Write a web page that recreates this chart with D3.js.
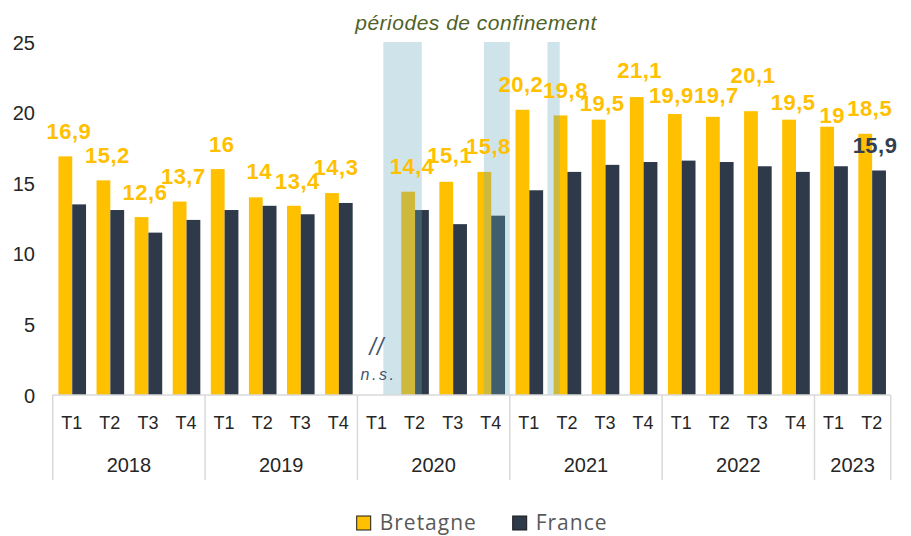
<!DOCTYPE html>
<html>
<head>
<meta charset="utf-8">
<script src="https://cdn.jsdelivr.net/npm/d3@7/dist/d3.min.js"></script>
<style>
  html, body { margin: 0; padding: 0; background: #fff; }
  svg { display: block; font-family: "Liberation Sans", Arial, sans-serif; }
</style>
</head>
<body>
<svg id="chart" width="911" height="536"></svg>
<script>
// ---------- data ----------
const years = ["2018", "2019", "2020", "2021", "2022", "2023"];
const quartersPerYear = [4, 4, 4, 4, 4, 2];
const quarterLabels = ["T1","T2","T3","T4","T1","T2","T3","T4","T1","T2","T3","T4","T1","T2","T3","T4","T1","T2","T3","T4","T1","T2"];
const bretagne = [16.9,15.2,12.6,13.7, 16,14,13.4,14.3, null,14.4,15.1,15.8, 20.2,19.8,19.5,21.1, 19.9,19.7,20.1,19.5, 19,18.5];
const france   = [13.5,13.1,11.5,12.4, 13.1,13.4,12.8,13.6, null,13.1,12.1,12.7, 14.5,15.8,16.3,16.5, 16.6,16.5,16.2,15.8, 16.2,15.9];
const yTicks = [0, 5, 10, 15, 20, 25];
// lockdown periods, in quarter-index units (start, end)
const lockdowns = [[8.68, 9.69], [11.32, 12.0], [12.99, 13.31]];
const lastFranceLabel = "15,9";

// ---------- label styling (pixel gaps between bar top and label baseline, horizontal nudges) ----------
const labelGap = [17,17.7,17,17.4, 17,18,17,18, 0,18,18.5,18, 18,17,9,18.7, 10.7,13.5,28,9.7, 3.4,18];
const labelDx  = [3.5,4,3.5,3.7, 4,3.5,3.5,4, 0,4,3.5,4, -1.5,5,3.5,3, -3.5,3.5,2,4, 5,4.5];

const svg = d3.select("#chart");
const left = 52.7, right = 890.7, y0 = 395, yTop = 42;

const idx = d3.range(quarterLabels.length);
const x = d3.scaleBand().domain(idx).range([left, right]).padding(0);
const y = d3.scaleLinear().domain([0, 25]).range([y0, yTop]);
const bw = 13.8;
const cx = i => x(i) + x.bandwidth() / 2;
const fmt = v => String(v).replace(".", ",");

const YEL = "#FFC000", DARK = "#2E3A4A";

// bars
const gBars = svg.append("g");
gBars.selectAll("rect.bre").data(idx.filter(i => bretagne[i] != null)).join("rect")
  .attr("x", i => cx(i) + 0.5 - bw).attr("width", bw)
  .attr("y", i => y(bretagne[i])).attr("height", i => y(0) - y(bretagne[i]))
  .attr("fill", YEL);
gBars.selectAll("rect.fr").data(idx.filter(i => france[i] != null)).join("rect")
  .attr("x", i => cx(i) + 0.5).attr("width", bw)
  .attr("y", i => y(france[i])).attr("height", i => y(0) - y(france[i]))
  .attr("fill", DARK);

// lockdown bands (semi-transparent, over bars)
const qx = d3.scaleLinear().domain([0, quarterLabels.length]).range([left, right]);
svg.append("g").selectAll("rect").data(lockdowns).join("rect")
  .attr("x", d => qx(d[0])).attr("width", d => qx(d[1]) - qx(d[0]))
  .attr("y", y(25)).attr("height", y(0) - y(25))
  .attr("fill", "rgb(107,170,189)").attr("fill-opacity", 0.32);

// title
svg.append("text").attr("x", 476).attr("y", 30).attr("text-anchor", "middle")
  .attr("font-size", 21).attr("font-style", "italic").attr("letter-spacing", 0.5)
  .attr("fill", "#4F6228").text("périodes de confinement");

// y axis labels
const yAxis = d3.axisLeft(y).tickValues(yTicks).tickSize(0).tickPadding(0);
const gy = svg.append("g").attr("transform", "translate(35,0)").call(yAxis);
gy.select(".domain").remove();
gy.selectAll("text").attr("font-size", 20).attr("fill", "#262626")
  .attr("font-family", "'Liberation Sans', Arial, sans-serif").attr("dy", "0.35em");

// x axis line and separators
const gx = svg.append("g");
gx.append("line").attr("x1", left).attr("x2", right).attr("y1", y0).attr("y2", y0)
  .attr("stroke", "#D9D9D9").attr("stroke-width", 1.5);
const bounds = [0];
quartersPerYear.forEach(q => bounds.push(bounds[bounds.length - 1] + q));
gx.selectAll("line.sep").data(bounds).join("line")
  .attr("x1", b => qx(b)).attr("x2", b => qx(b)).attr("y1", y0).attr("y2", 480)
  .attr("stroke", "#D9D9D9").attr("stroke-width", 1.5);
gx.selectAll("text.q").data(idx).join("text")
  .attr("x", i => cx(i)).attr("y", 429.3).attr("text-anchor", "middle")
  .attr("font-size", 18).attr("fill", "#262626").text(i => quarterLabels[i]);
gx.selectAll("text.yr").data(years).join("text")
  .attr("x", (d, k) => (qx(bounds[k]) + qx(bounds[k + 1])) / 2).attr("y", 472.3)
  .attr("text-anchor", "middle").attr("font-size", 20).attr("fill", "#262626").text(d => d);

// n.s. marker for 2020 T1
const nsIdx = bretagne.findIndex(v => v == null);
svg.append("text").attr("x", cx(nsIdx) + 0.5).attr("y", 355).attr("text-anchor", "middle")
  .attr("font-size", 23).attr("font-style", "italic").attr("letter-spacing", 1)
  .attr("fill", "#44546A").text("//");
svg.append("text").attr("x", cx(nsIdx) + 2).attr("y", 380).attr("text-anchor", "middle")
  .attr("font-size", 16).attr("font-style", "italic").attr("letter-spacing", 2.5)
  .attr("fill", "#44546A").text("n.s.");

// value labels
svg.append("g").selectAll("text").data(idx.filter(i => bretagne[i] != null)).join("text")
  .attr("x", i => cx(i) + 0.5 - bw / 2 + labelDx[i])
  .attr("y", i => y(bretagne[i]) - labelGap[i])
  .attr("text-anchor", "middle").attr("font-size", 22).attr("font-weight", "bold")
  .attr("letter-spacing", 0.5).attr("fill", YEL).text(i => fmt(bretagne[i]));
const last = france.length - 1;
svg.append("text").attr("x", cx(last) + 0.5 + bw / 2 - 4).attr("y", y(france[last]) - 17)
  .attr("text-anchor", "middle").attr("font-size", 22).attr("font-weight", "bold")
  .attr("letter-spacing", 0.5).attr("fill", "#333F50").text(lastFranceLabel);

// legend
const legend = [["Bretagne", YEL, 356.7], ["France", DARK, 512.7]];
const gl = svg.append("g");
gl.selectAll("rect").data(legend).join("rect")
  .attr("x", d => d[2]).attr("y", 516).attr("width", 14).attr("height", 14)
  .attr("fill", d => d[1]).attr("stroke", "#1a1a1a").attr("stroke-width", 1);
gl.selectAll("text").data(legend).join("text")
  .attr("x", d => d[2] + 23).attr("y", 530)
  .attr("font-family", "'Open Sans', sans-serif").attr("font-size", 21).attr("letter-spacing", 1)
  .attr("fill", "#595959").text(d => d[0]);
</script>
</body>
</html>
